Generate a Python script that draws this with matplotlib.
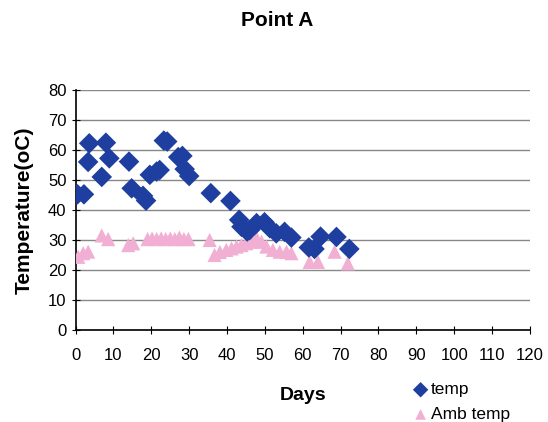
import matplotlib.pyplot as plt

plt.rcParams['font.family'] = ['Liberation Sans', 'DejaVu Sans']

# temp series (blue diamonds)
temp_days = [0.5, 2.2, 3.6, 3.3, 6.9, 8.0, 8.9, 14.1, 14.8, 17.8, 18.6, 19.6, 21.4, 22.2,
             23.3, 24.2, 27.1, 28.2, 28.8, 30.0, 35.7, 40.9, 43.2, 43.8, 45.3, 46.0, 47.8,
             49.9, 51.3, 53.0, 55.2, 57.0, 61.6, 63.1, 64.7, 68.9, 72.3]
temp_vals = [45.2, 45.2, 62.2, 56.0, 51.0, 62.4, 57.2, 56.1, 47.2, 44.7, 43.1, 51.7, 52.8, 53.3,
             63.1, 62.8, 57.6, 58.0, 53.6, 51.3, 45.6, 43.0, 36.7, 34.4, 32.8, 33.3, 35.6,
             35.9, 33.9, 32.2, 32.7, 30.8, 27.5, 27.0, 31.1, 31.0, 27.0]

# Amb temp series (pink triangles)
amb_days = [0.7, 2.0, 3.3, 6.9, 8.6, 13.9, 15.2, 19.0, 20.2, 21.4, 22.6, 23.8, 25.0, 26.2,
            27.4, 28.6, 29.8, 35.4, 36.7, 38.1, 39.8, 41.2, 42.5, 43.8, 45.1, 46.4, 47.8,
            49.1, 50.4, 52.1, 53.9, 55.7, 57.0, 61.8, 64.0, 68.4, 71.9]
amb_vals = [24.4, 25.6, 26.1, 31.5, 30.3, 28.3, 28.9, 30.3, 30.5, 30.3, 30.5, 30.3, 30.5, 30.3,
            30.8, 30.3, 30.3, 30.0, 25.0, 26.0, 26.7, 27.2, 27.8, 28.3, 28.9, 29.4, 30.6,
            29.4, 27.8, 26.7, 26.1, 26.1, 25.6, 22.7, 22.7, 26.1, 22.2]

x_ticks = list(range(0, 121, 10))
y_ticks = list(range(0, 81, 10))

fig = plt.figure(figsize=(5.48, 4.22), dpi=100)
ax = fig.add_axes([0.138, 0.218, 0.829, 0.569])

ax.scatter(amb_days, amb_vals, marker='^', s=105, color='#f2afd4', edgecolors='none',
           label='Amb temp', zorder=3)
ax.scatter(temp_days, temp_vals, marker='D', s=110, color='#1e3f9f', edgecolors='none',
           label='temp', zorder=4)

ax.set_xlim(0, 120)
ax.set_ylim(0, 80)
ax.set_xticks(x_ticks)
ax.set_yticks(y_ticks)
ax.yaxis.grid(True, color='#888888', linewidth=1)
ax.set_axisbelow(True)
for side in ['top', 'right']:
    ax.spines[side].set_visible(False)
ax.spines['left'].set_linewidth(1.2)
ax.spines['bottom'].set_linewidth(1.2)
ax.tick_params(axis='both', direction='inout', length=6, labelsize=12)
ax.tick_params(axis='x', pad=10)

ax.set_xlabel('Days', fontsize=14, fontweight='bold', labelpad=17)
ax.set_ylabel('Temperature(oC)', fontsize=15, fontweight='bold', labelpad=10)
fig.text(0.505, 0.952, 'Point A', fontsize=15, fontweight='bold', ha='center', va='center')

handles, labels = ax.get_legend_handles_labels()
fig.legend(handles[::-1], labels[::-1], loc='upper left', bbox_to_anchor=(0.72, 0.115),
           frameon=False, fontsize=12.5, handletextpad=-0.4, labelspacing=0.55,
           borderpad=0, markerscale=0.75)

fig.savefig('out.png', dpi=100)
